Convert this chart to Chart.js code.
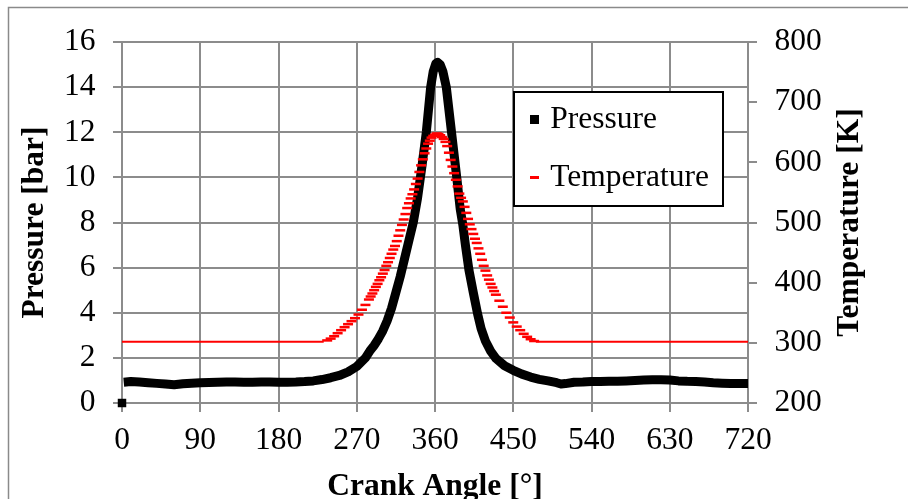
<!DOCTYPE html>
<html><head><meta charset="utf-8">
<script src="https://cdn.jsdelivr.net/npm/chart.js@4"></script>
<style>html,body{margin:0;padding:0;background:#fff;}canvas{display:block;}</style>
</head><body>
<canvas id="c" width="908" height="499"></canvas>
<script>
// ---------- data ----------
const seriesNames = ['Pressure', 'Temperature'];
const xTitle = 'Crank Angle [°]';
const yTitle = 'Pressure [bar]';
const y1Title = 'Temperature [K]';
const xTickValues = [0, 90, 180, 270, 360, 450, 540, 630, 720];
const yTickValues = [0, 2, 4, 6, 8, 10, 12, 14, 16];
const y1TickValues = [200, 300, 400, 500, 600, 700, 800];

const pressureAngles = [0, 2, 10, 20, 30, 40, 50, 60, 70, 80, 90, 100, 110, 120, 130, 140, 150, 160, 170, 180, 190, 200, 210, 220, 230, 240, 250, 260, 270, 280, 285, 290, 295, 300, 305, 310, 315, 320, 325, 330, 335, 340, 345, 350, 355, 358, 361, 363, 366, 369, 373, 379, 385, 389, 392, 395, 399, 404, 409, 413, 418, 424, 430, 440, 450, 460, 470, 480, 490, 500, 505, 510, 520, 530, 540, 550, 560, 570, 580, 590, 600, 610, 620, 630, 640, 650, 660, 670, 680, 690, 700, 710, 720];
const pressureValues = [0, 0.92, 0.95, 0.93, 0.9, 0.87, 0.84, 0.81, 0.85, 0.88, 0.9, 0.91, 0.92, 0.93, 0.93, 0.92, 0.92, 0.93, 0.93, 0.92, 0.92, 0.93, 0.95, 0.98, 1.04, 1.12, 1.22, 1.38, 1.62, 2.0, 2.3, 2.55, 2.85, 3.2, 3.65, 4.2, 4.9, 5.6, 6.4, 7.2, 8.0, 9.1, 10.5, 12.0, 14.0, 14.7, 15.05, 15.1, 15.0, 14.7, 14.0, 12.0, 10.0, 8.6, 7.9, 7.0, 5.9, 4.9, 3.95, 3.3, 2.75, 2.3, 1.98, 1.65, 1.45, 1.28, 1.15, 1.05, 0.98, 0.9, 0.84, 0.86, 0.92, 0.93, 0.95, 0.95, 0.96, 0.96, 0.98, 1.0, 1.02, 1.03, 1.03, 1.02, 0.98, 0.96, 0.95, 0.93, 0.9, 0.88, 0.86, 0.86, 0.86];

const temperatureAngles = [0, 232, 236, 240, 244, 248, 252, 256, 260, 264, 268, 272, 276, 280, 284, 286, 288, 290, 292, 294, 296, 298, 300, 302, 304, 306, 308, 310, 312, 314, 316, 318, 320, 322, 324, 326, 328, 330, 332, 334, 336, 338, 340, 342, 344, 346, 348, 350, 352, 354, 356, 358, 360, 362, 364, 366, 368, 370, 372, 374, 376, 378, 380, 382, 384, 386, 388, 390, 392, 394, 396, 398, 400, 402, 404, 406, 408, 410, 412, 414, 416, 418, 420, 422, 424, 426, 428, 430, 434, 438, 442, 446, 450, 454, 458, 462, 466, 470, 474, 476, 720];
const temperatureValues = [302, 302, 304, 307, 311, 316, 321, 326, 331, 336, 341, 347, 355, 363, 372, 377, 382, 387.5, 393, 398, 404, 409, 415, 421, 428, 434, 441, 448, 455, 461, 469, 478, 487, 496, 505, 514, 524, 532, 540, 547, 555, 564, 573, 584, 595, 605, 615, 623, 631, 636, 641, 644, 646, 648, 647, 645, 642, 639, 634, 627, 616, 604, 593, 582, 571, 560, 548, 541, 535, 526, 516, 506, 497, 489, 481, 473, 466, 457, 448, 438, 428, 420, 412, 405, 398, 392, 386, 380, 370, 360, 350, 342, 334, 327, 321, 315, 310, 306, 303, 302, 302];

// ---------- style ----------
const FONT = "'Liberation Serif','Times New Roman',serif";
const FS = 31.5;
const GRID = '#8c8c8c';
const BASE_T = 302.5;
Chart.defaults.font.family = FONT;
Chart.defaults.font.size = FS;
Chart.defaults.color = '#000';

function markerCanvas(w, h, color) {
  const c = document.createElement('canvas');
  c.width = w; c.height = h;
  const g = c.getContext('2d');
  g.fillStyle = color; g.fillRect(0, 0, w, h);
  return c;
}
const legendMarkers = [markerCanvas(9, 9, '#000'), markerCanvas(9, 3, '#ff0000')];
const seriesColors = ['#000000', '#ff0000'];

function drawLegendFrame(chart) {
  const ctx = chart.ctx;
  ctx.save();
  ctx.fillStyle = '#fff';
  ctx.fillRect(514, 91, 210, 115);
  ctx.strokeStyle = '#000';
  ctx.lineWidth = 2;
  ctx.strokeRect(514, 92, 209, 114);
  ctx.restore();
}

const decor = {
  id: 'decor',
  beforeDraw(chart) {
    const ctx = chart.ctx;
    ctx.save();
    ctx.fillStyle = '#fff';
    ctx.fillRect(0, 0, chart.width, chart.height);
    ctx.strokeStyle = '#8a8a8a';
    ctx.lineWidth = 1.5;
    ctx.strokeRect(8.5, 7.5, chart.width + 40, chart.height + 40);
    ctx.restore();
  },
  beforeLayout(chart) {
    const lg = chart.legend;
    if (lg && !lg._patched) {
      lg._patched = true;
      lg._layers = function () {
        return [{ z: 10, draw: (area) => { drawLegendFrame(chart); lg.draw(area); } }];
      };
    }
  },
  afterLayout(chart) {
    const lg = chart.legend;
    if (!lg) return;
    lg.left = 508; lg.top = 77.25;
    lg.width = 216; lg.height = 300;
    lg.right = lg.left + lg.width; lg.bottom = lg.top + lg.height;
  },
  afterDraw(chart) {
    const y1 = chart.scales.y1;
    const ctx = chart.ctx;
    ctx.save();
    ctx.translate(850, (chart.chartArea.top + chart.chartArea.bottom) / 2);
    ctx.rotate(-Math.PI / 2);
    ctx.font = 'bold ' + FS + 'px ' + FONT;
    ctx.fillStyle = '#000';
    ctx.textAlign = 'center';
    ctx.textBaseline = 'middle';
    ctx.fillText(y1.options.title.text, 0, 0);
    ctx.restore();
  }
};

const tickFont = { family: FONT, size: FS };
const titleFont = { family: FONT, size: FS, weight: 'bold', lineHeight: 1 };

new Chart(document.getElementById('c'), {
  type: 'line',
  data: {
    datasets: [
      {
        label: seriesNames[0],
        data: pressureAngles.map((a, i) => ({ x: a, y: pressureValues[i] })),
        yAxisID: 'y',
        order: 1,
        borderColor: seriesColors[0],
        borderWidth: 9,
        borderJoinStyle: 'round',
        borderCapStyle: 'butt',
        pointStyle: 'rect',
        pointRadius: (ctx) => (ctx.dataIndex === 0 ? 6 : 0),
        pointHoverRadius: 0,
        pointBackgroundColor: seriesColors[0],
        pointBorderWidth: 0,
        segment: { borderColor: (ctx) => (ctx.p0DataIndex === 0 ? 'rgba(0,0,0,0)' : undefined) },
        tension: 0,
        clip: false
      },
      {
        label: seriesNames[1],
        data: temperatureAngles.map((a, i) => ({ x: a, y: temperatureValues[i] })),
        yAxisID: 'y1',
        order: 0,
        borderColor: seriesColors[1],
        borderWidth: 2,
        segment: {
          borderColor: (ctx) => (ctx.p0.parsed.y <= BASE_T && ctx.p1.parsed.y <= BASE_T ? seriesColors[1] : 'rgba(0,0,0,0)')
        },
        pointStyle: 'line',
        pointRadius: (ctx) => (ctx.raw && ctx.raw.y > BASE_T ? 5 : 0),
        pointHoverRadius: 0,
        pointBorderColor: seriesColors[1],
        pointBackgroundColor: seriesColors[1],
        pointBorderWidth: 2.5,
        tension: 0,
        clip: false
      }
    ]
  },
  options: {
    responsive: false,
    devicePixelRatio: 1,
    animation: false,
    events: [],
    layout: { padding: { top: 42, left: 0, right: 0, bottom: 0 } },
    plugins: {
      tooltip: { enabled: false },
      legend: {
        display: true,
        position: 'chartArea',
        align: 'start',
        labels: {
          usePointStyle: true,
          boxWidth: 0.01,
          boxHeight: 9,
          padding: 26.5,
          color: '#000',
          font: tickFont,
          generateLabels: (chart) => chart.data.datasets.map((ds, i) => ({
            text: ds.label,
            fillStyle: seriesColors[i],
            strokeStyle: seriesColors[i],
            lineWidth: 0,
            pointStyle: legendMarkers[i],
            hidden: false,
            datasetIndex: i,
            fontColor: '#000'
          }))
        }
      }
    },
    scales: {
      x: {
        type: 'linear',
        min: 0, max: 720,
        afterBuildTicks: (s) => { s.ticks = xTickValues.map((v) => ({ value: v })); },
        ticks: { padding: 10, color: '#000', font: tickFont, maxRotation: 0, autoSkip: false },
        grid: { color: GRID, lineWidth: 2, tickLength: 9, drawTicks: true },
        border: { color: GRID, width: 2 },
        title: { display: true, text: xTitle, color: '#000', font: { family: FONT, size: FS, weight: 'bold', lineHeight: '24px' }, padding: 0 },
        afterFit: (s) => { s.height = 96; }
      },
      y: {
        type: 'linear',
        position: 'left',
        min: 0, max: 16,
        afterBuildTicks: (s) => { s.ticks = yTickValues.map((v) => ({ value: v })); },
        ticks: { padding: 17.5, color: '#000', font: tickFont },
        grid: { color: GRID, lineWidth: 2, tickLength: 9, drawTicks: true },
        border: { color: GRID, width: 2 },
        title: { display: true, text: yTitle, color: '#000', font: titleFont, padding: { top: 19.6, bottom: 0 } },
        afterFit: (s) => { s.width = 122; }
      },
      y1: {
        type: 'linear',
        position: 'right',
        min: 200, max: 800,
        afterBuildTicks: (s) => { s.ticks = y1TickValues.map((v) => ({ value: v })); },
        ticks: { padding: 17.5, color: '#000', font: tickFont },
        grid: { drawOnChartArea: false, color: GRID, lineWidth: 2, tickLength: 9, drawTicks: true },
        border: { color: GRID, width: 2 },
        title: { display: false, text: y1Title },
        afterFit: (s) => { s.width = 160; }
      }
    }
  },
  plugins: [decor]
});
</script>
</body></html>
